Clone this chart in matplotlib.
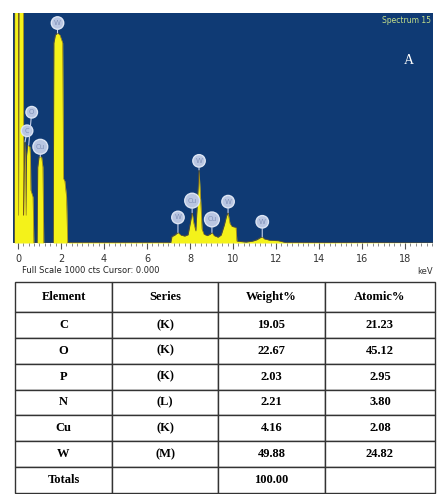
import matplotlib.pyplot as plt
from matplotlib.ticker import MultipleLocator

# EDS spectrum outline (keV, counts)
energy = [-0.30, -0.17, -0.15, 0.01, 0.03, 0.05, 0.24, 0.27, 0.29, 0.33, 0.36,
          0.38, 0.40, 0.45, 0.55, 0.58, 0.60, 0.70, 0.74, 0.89, 0.92, 0.98,
          1.10, 1.16, 1.20, 1.64, 1.67, 1.74, 1.84, 1.95, 2.08, 2.12, 2.18,
          2.26, 2.31, 2.40, 7.00,
          7.10, 7.16, 7.30, 7.44, 7.58, 7.75, 7.91, 8.02, 8.10, 8.18, 8.27,
          8.34, 8.42, 8.50, 8.56, 8.65, 8.80, 8.93, 9.02, 9.12, 9.30, 9.45,
          9.60, 9.70, 9.77, 9.86, 9.95, 10.14, 10.18, 10.60, 10.90, 11.10,
          11.28, 11.36, 11.45, 11.70, 12.10, 12.40, 19.50]
counts = [0, 0, 1400, 1400, 120, 1400, 1400, 120, 300, 440, 300,
          120, 380, 425, 420, 380, 230, 200, 0, 0, 330, 375,
          375, 330, 0, 0, 870, 905, 913, 905, 870, 280, 270,
          200, 0, 3, 3,
          0, 28, 35, 46, 34, 30, 36, 90, 132, 85, 52,
          170, 318, 180, 60, 38, 32, 38, 46, 32, 25, 35,
          80, 118, 132, 85, 72, 68, 8, 4, 8, 14,
          24, 27, 18, 12, 10, 3, 0]

# peak identifications
peak_names = ["C", "O", "Cu", "W", "W", "Cu", "W", "Cu", "W", "W"]
peak_kev = [0.33, 0.50, 1.04, 1.84, 7.44, 8.10, 8.42, 9.02, 9.77, 11.36]
peak_cts = [440, 425, 375, 913, 46, 132, 318, 46, 132, 27]
label_offsets = [(2, 11), (3, 33), (0, 10), (0, 10), (0, 15),
                 (0, 12), (0, 9), (0, 13), (0, 11), (0, 15)]

# quantification table
elements = ["C", "O", "P", "N", "Cu", "W", "Totals"]
series = ["(K)", "(K)", "(K)", "(L)", "(K)", "(M)", ""]
weight = ["19.05", "22.67", "2.03", "2.21", "4.16", "49.88", "100.00"]
atomic = ["21.23", "45.12", "2.95", "3.80", "2.08", "24.82", ""]
columns = ["Element", "Series", "Weight%", "Atomic%"]

W, H = 438, 494
fig = plt.figure(figsize=(W / 100, H / 100), dpi=100)

ax = fig.add_axes([13 / W, 1 - 243 / H, 420 / W, 230 / H])
ax.set_facecolor("#0f3a74")
ax.fill_between(energy, counts, 0, color="#f4f21a", linewidth=0)
ax.plot(energy, counts, color="#7a5a1a", linewidth=0.4)
ax.set_xlim(-0.23, 19.3)
ax.set_ylim(0, 1000)
ax.set_yticks([])
for s in ax.spines.values():
    s.set_visible(False)
ax.xaxis.set_major_locator(MultipleLocator(2))
ax.xaxis.set_minor_locator(MultipleLocator(0.25))
ax.tick_params(axis="x", which="major", length=4, width=0.8, color="#555555",
               labelsize=7, labelcolor="#333333", pad=4)
ax.tick_params(axis="x", which="minor", length=2.5, width=0.6, color="#777777")

for name, kev, cts, off in zip(peak_names, peak_kev, peak_cts, label_offsets):
    ax.annotate(name, xy=(kev, cts), xytext=off, textcoords="offset pixels",
                ha="center", va="center", fontsize=5, color="#8292ba",
                bbox=dict(boxstyle="circle,pad=0.4", fc="#b9c6e2",
                          ec="#dde5f4", lw=1.0),
                arrowprops=dict(arrowstyle="-", color="#c8d2ea", lw=0.8,
                                shrinkA=0, shrinkB=0))

ax.text(0.995, 0.985, "Spectrum 15", transform=ax.transAxes, ha="right",
        va="top", fontsize=5.5, color="#c5e08a")
fig.text(409 / W, 1 - 61 / H, "A", ha="center", va="center", fontsize=10,
         color="white", family="Liberation Serif")

fig.text(22 / W, 1 - 270 / H, "Full Scale 1000 cts Cursor: 0.000",
         ha="left", va="center", fontsize=6, color="#222222")
fig.text(433 / W, 1 - 271 / H, "keV", ha="right", va="center", fontsize=6,
         color="#333333")

# table under the spectrum
tab_ax = fig.add_axes([15 / W, 1 - 493 / H, 420 / W, 211 / H])
tab_ax.axis("off")
rows = [list(r) for r in zip(elements, series, weight, atomic)]
widths = [97, 106, 107, 110]
tbl = tab_ax.table(cellText=rows, colLabels=columns, cellLoc="center",
                   colWidths=[w / sum(widths) for w in widths],
                   bbox=[0, 0, 1, 1])
tbl.auto_set_font_size(False)
for (r, c), cell in tbl.get_celld().items():
    cell.set_height(30 if r == 0 else 25.9)
    cell.set_edgecolor("#333333")
    cell.set_linewidth(1.0)
    cell.get_text().set_fontsize(9)
    cell.get_text().set_fontweight("bold")
    cell.get_text().set_family("Liberation Serif")

fig.savefig("out.png", dpi=100)
